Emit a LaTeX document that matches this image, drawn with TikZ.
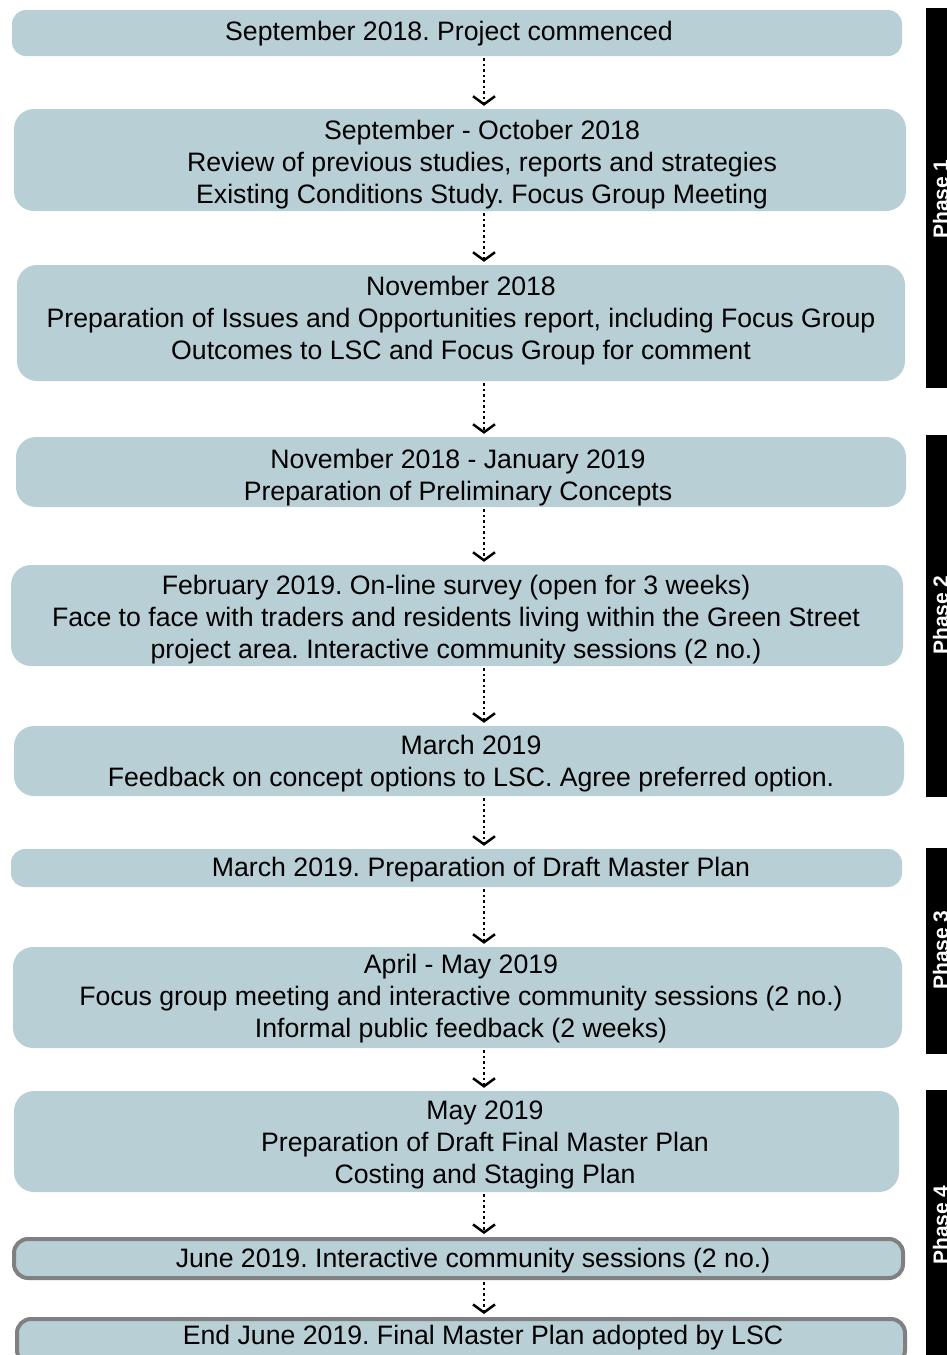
\documentclass[tikz,border=0pt]{standalone}
\usepackage{fontspec}
\setmainfont{Liberation Sans}
\usepackage{tikz}
\usetikzlibrary{arrows.meta}
\definecolor{stagefill}{HTML}{B8CFD6}
\definecolor{stageline}{HTML}{808080}
\frenchspacing

\tikzset{
  stage/.style={fill=stagefill, rounded corners=20pt, inner sep=0pt},
  thinstage/.style={stage, rounded corners=14pt},
  marked/.style={thinstage, draw=stageline, line width=4pt},
  stagetext/.style={align=center, inner sep=0pt, font=\fontsize{26.67}{32}\selectfont},
  flow/.style={line width=2.5pt, dash pattern=on 2.5pt off 3pt,
    -{Straight Barb[length=8pt, width=22pt, line width=2.5pt]},
    shorten <=2pt, shorten >=3pt},
  phasebar/.style={fill=black, inner sep=0pt, minimum width=24pt},
  phasetext/.style={text=white, rotate=90, anchor=base, inner sep=0pt,
    font=\fontsize{21}{24}\selectfont\bfseries}
}

\begin{document}
\begin{tikzpicture}[x=1pt, y=-1pt]

\useasboundingbox (0,0) rectangle (947,1355);

% Stages
\node[thinstage, minimum width=890pt, minimum height=46pt] (s1) at (457,33) {};
\node[stage, minimum width=892pt, minimum height=102pt] (s2) at (460,160) {};
\node[stage, minimum width=888pt, minimum height=116pt] (s3) at (461,323) {};
\node[stage, minimum width=890pt, minimum height=70pt] (s4) at (461,472) {};
\node[stage, minimum width=892pt, minimum height=101pt] (s5) at (457,615.5) {};
\node[stage, minimum width=890pt, minimum height=70pt] (s6) at (459,761) {};
\node[thinstage, minimum width=891pt, minimum height=38pt] (s7) at (456.5,868) {};
\node[stage, minimum width=889pt, minimum height=101pt] (s8) at (457.5,997.5) {};
\node[stage, minimum width=885pt, minimum height=101pt] (s9) at (456.5,1141.5) {};
\node[marked, minimum width=889pt, minimum height=39pt] (s10) at (458.5,1258.5) {};
\node[marked, minimum width=888pt, minimum height=45pt] (s11) at (461,1341.5) {};

% Stage texts
\node[stagetext] (t1) at (449,34) {September 2018. Project commenced};
\node[stagetext] (t2) at (482,165) {September - October 2018\\Review of previous studies, reports and strategies\\Existing Conditions Study. Focus Group Meeting};
\node[stagetext] (t3) at (461,321) {November 2018\\Preparation of Issues and Opportunities report, including Focus Group\\Outcomes to LSC and Focus Group for comment};
\node[stagetext] (t4) at (458,478) {November 2018 - January 2019\\Preparation of Preliminary Concepts};
\node[stagetext] (t5) at (456,620) {February 2019. On-line survey (open for 3 weeks)\\Face to face with traders and residents living within the Green Street\\project area. Interactive community sessions (2 no.)};
\node[stagetext] (t6) at (471,764) {March 2019\\Feedback on concept options to LSC. Agree preferred option.};
\node[stagetext] (t7) at (481,870) {March 2019. Preparation of Draft Master Plan};
\node[stagetext] (t8) at (461,999) {April - May 2019\\Focus group meeting and interactive community sessions (2 no.)\\Informal public feedback (2 weeks)};
\node[stagetext] (t9) at (485,1145) {May 2019\\Preparation of Draft Final Master Plan\\Costing and Staging Plan};
\node[stagetext] (t10) at (473,1261) {June 2019. Interactive community sessions (2 no.)};
\node[stagetext] (t11) at (483,1338) {End June 2019. Final Master Plan adopted by LSC};

% Flow
\coordinate (axis) at (484,0);
\foreach \a/\b in {s1/s2, s2/s3, s3/s4, s4/s5, s5/s6, s6/s7, s7/s8, s8/s9, s9/s10, s10/s11}
  \draw[flow] (\a.south -| axis) -- (\b.north -| axis);

% Phases
\node[phasebar, minimum height=380pt] (p1) at (938,198) {};
\node[phasebar, minimum height=362pt] (p2) at (938,616) {};
\node[phasebar, minimum height=206pt] (p3) at (938,951) {};
\node[phasebar, minimum height=275pt] (p4) at (938,1227.5) {};
\node[phasetext] at (948,199) {Phase 1};
\node[phasetext] at (948,615) {Phase 2};
\node[phasetext] at (948,950) {Phase 3};
\node[phasetext] at (948,1225) {Phase 4};

\end{tikzpicture}
\end{document}
